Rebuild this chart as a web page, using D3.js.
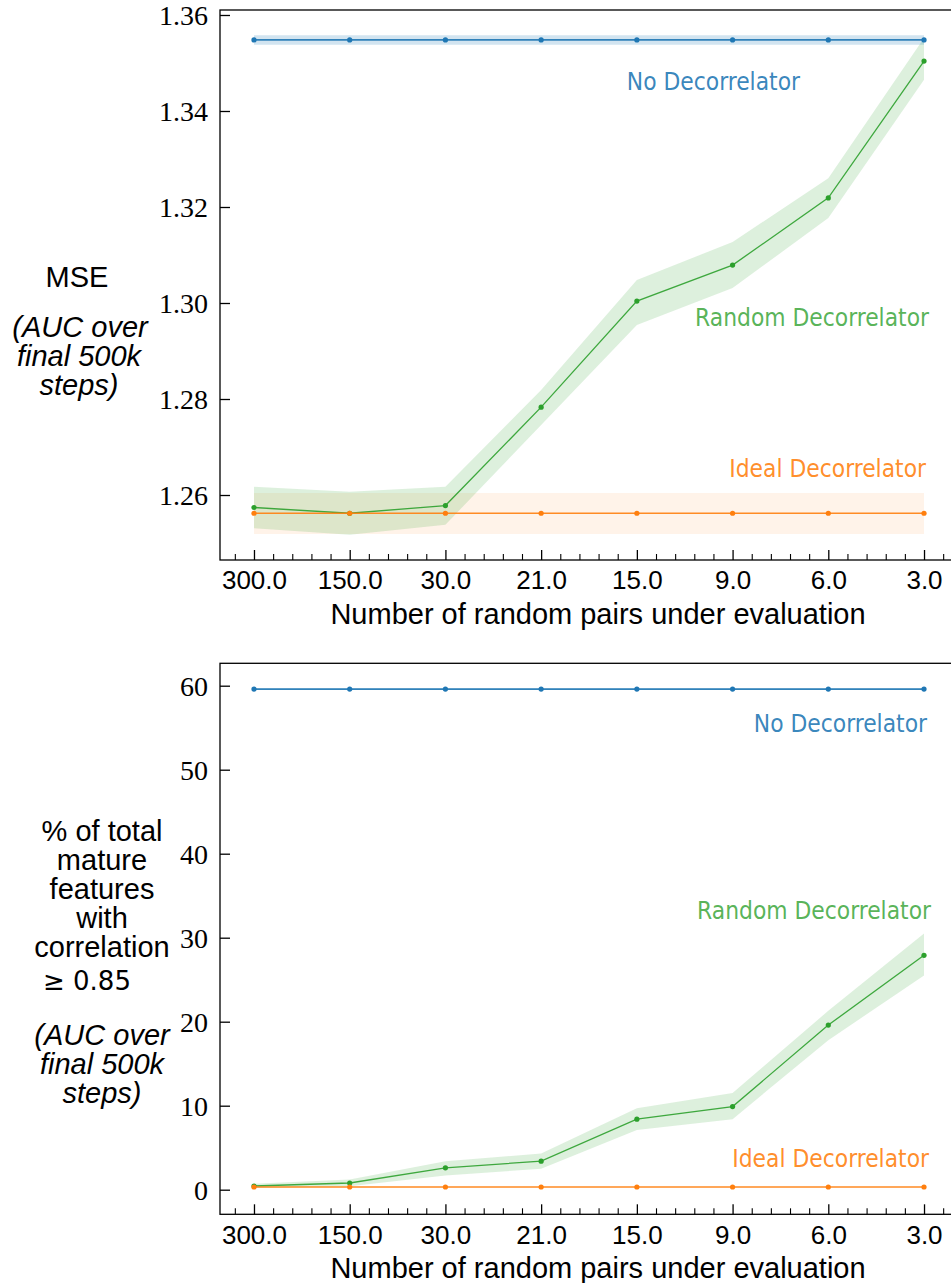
<!DOCTYPE html>
<html>
<head>
<meta charset="utf-8">
<script src="https://cdn.jsdelivr.net/npm/d3@7"></script>
<style>
  html, body { margin: 0; padding: 0; background: #fff; }
  svg { display: block; }
  .ytick text { font-family: "Liberation Serif", "DejaVu Serif", serif; font-size: 28px; fill: #000; }
  .xtick text { font-family: "Liberation Sans", Arial, sans-serif; font-size: 26px; fill: #000; }
  .title { font-family: "Liberation Sans", Arial, sans-serif; font-size: 29px; fill: #000; }
  .series-label { font-family: "DejaVu Sans Condensed", "DejaVu Sans", sans-serif; font-stretch: condensed; font-size: 24.3px; }
</style>
</head>
<body>
<svg id="chart" width="951" height="1283"></svg>
<script>
// Evaluation budgets (number of random pairs), shown left to right
const categories = ["300.0", "150.0", "30.0", "21.0", "15.0", "9.0", "6.0", "3.0"];

// Panel 1: MSE (AUC over final 500k steps)
const mseNoMean    = [1.3548, 1.3548, 1.3548, 1.3548, 1.3548, 1.3548, 1.3548, 1.3548];
const mseNoLow     = [1.3538, 1.3538, 1.3538, 1.3538, 1.3538, 1.3538, 1.3538, 1.3538];
const mseNoHigh    = [1.3558, 1.3558, 1.3558, 1.3558, 1.3558, 1.3558, 1.3558, 1.3558];
const mseRandMean  = [1.2574, 1.2562, 1.2578, 1.2783, 1.3004, 1.3079, 1.3219, 1.3504];
const mseRandLow   = [1.2531, 1.2517, 1.2538, 1.2746, 1.2954, 1.3031, 1.3177, 1.3465];
const mseRandHigh  = [1.2617, 1.2607, 1.2617, 1.2819, 1.3048, 1.3127, 1.3260, 1.3552];
const mseIdealMean = [1.2562, 1.2562, 1.2562, 1.2562, 1.2562, 1.2562, 1.2562, 1.2562];
const mseIdealLow  = [1.2519, 1.2519, 1.2519, 1.2519, 1.2519, 1.2519, 1.2519, 1.2519];
const mseIdealHigh = [1.2604, 1.2604, 1.2604, 1.2604, 1.2604, 1.2604, 1.2604, 1.2604];
const mseTicks = [1.26, 1.28, 1.30, 1.32, 1.34, 1.36];

// Panel 2: % of mature features with correlation >= 0.85
const corNoMean    = [59.6, 59.6, 59.6, 59.6, 59.6, 59.6, 59.6, 59.6];
const corNoLow     = [59.5, 59.5, 59.5, 59.5, 59.5, 59.5, 59.5, 59.5];
const corNoHigh    = [59.7, 59.7, 59.7, 59.7, 59.7, 59.7, 59.7, 59.7];
const corRandMean  = [0.44, 0.8, 2.6, 3.4, 8.4, 9.9, 19.6, 27.9];
const corRandLow   = [0.2, 0.4, 1.7, 2.5, 7.1, 8.4, 17.8, 25.5];
const corRandHigh  = [0.7, 1.2, 3.4, 4.3, 9.7, 11.5, 21.3, 30.5];
const corIdealMean = [0.32, 0.32, 0.32, 0.32, 0.32, 0.32, 0.32, 0.32];
const corIdealLow  = [0.27, 0.27, 0.27, 0.27, 0.27, 0.27, 0.27, 0.27];
const corIdealHigh = [0.37, 0.37, 0.37, 0.37, 0.37, 0.37, 0.37, 0.37];
const corTicks = [0, 10, 20, 30, 40, 50, 60];

const seriesNames = ["No Decorrelator", "Random Decorrelator", "Ideal Decorrelator"];
const colors = { no: "#1f77b4", rand: "#2ca02c", ideal: "#ff7f0e" };

const svg = d3.select("#chart");

function drawPanel(cfg) {
  const g = svg.append("g");
  const idx = d3.range(categories.length);
  const x = d3.scaleLinear().domain([-0.355, categories.length - 1 + 0.355]).range([cfg.left, cfg.right]);
  const y = d3.scaleLinear().domain(cfg.yDomain).range([cfg.bottom, cfg.top]);

  const series = [
    { key: "no", mean: cfg.no[0], low: cfg.no[1], high: cfg.no[2], bandAlpha: 0.2, lw: 1.7 },
    { key: "rand", mean: cfg.rand[0], low: cfg.rand[1], high: cfg.rand[2], bandAlpha: 0.16, lw: 1.3 },
    { key: "ideal", mean: cfg.ideal[0], low: cfg.ideal[1], high: cfg.ideal[2], bandAlpha: 0.09, lw: 1.6 }
  ];

  const area = d3.area().x(i => x(i));
  const line = d3.line().x(i => x(i));

  // confidence bands
  ["ideal", "rand", "no"].forEach(k => {
    const s = series.find(d => d.key === k);
    g.append("path")
      .datum(idx)
      .attr("d", area.y0(i => y(s.low[i])).y1(i => y(s.high[i])))
      .attr("fill", colors[k])
      .attr("fill-opacity", s.bandAlpha);
  });

  // mean lines with point markers
  ["no", "rand", "ideal"].forEach(k => {
    const s = series.find(d => d.key === k);
    g.append("path")
      .datum(idx)
      .attr("d", line.y(i => y(s.mean[i])))
      .attr("fill", "none")
      .attr("stroke", colors[k])
      .attr("stroke-opacity", 0.9)
      .attr("stroke-width", s.lw);
    g.selectAll(null)
      .data(idx)
      .enter().append("circle")
      .attr("cx", i => x(i))
      .attr("cy", i => y(s.mean[i]))
      .attr("r", 2.6)
      .attr("fill", colors[k]);
  });

  // series labels
  cfg.labels.forEach(l => {
    g.append("text")
      .attr("class", "series-label")
      .attr("x", l.x)
      .attr("y", l.y)
      .attr("text-anchor", "end")
      .attr("fill", colors[l.key])
      .attr("fill-opacity", l.alpha)
      .text(l.text);
  });

  // frame
  g.append("rect")
    .attr("x", cfg.left).attr("y", cfg.top)
    .attr("width", cfg.right - cfg.left).attr("height", cfg.bottom - cfg.top)
    .attr("fill", "none").attr("stroke", "#000").attr("stroke-width", 1.3);

  // y axis: inward ticks, serif labels
  const yAxis = d3.axisLeft(y).tickValues(cfg.yTicks).tickFormat(cfg.yFormat)
    .tickSizeInner(-10).tickSizeOuter(0).tickPadding(12);
  const ya = g.append("g").attr("class", "ytick").attr("transform", `translate(${cfg.left},0)`).call(yAxis);
  ya.select(".domain").remove();
  ya.selectAll("line").attr("stroke", "#000").attr("stroke-width", 1.3);
  ya.selectAll("text").attr("dy", "0.35em");

  // x axis: major ticks at each budget
  const xAxis = d3.axisBottom(x).tickValues(idx).tickFormat(i => categories[i])
    .tickSizeInner(-10).tickSizeOuter(0).tickPadding(11);
  const xa = g.append("g").attr("class", "xtick").attr("transform", `translate(0,${cfg.bottom})`).call(xAxis);
  xa.select(".domain").remove();
  xa.selectAll("line").attr("stroke", "#000").attr("stroke-width", 1.3);
  xa.selectAll("text").attr("dy", "0.71em");

  // x axis: minor ticks
  const minor = d3.range(-0.2, categories.length - 1 + 0.45, 0.2)
    .map(v => Math.round(v * 10) / 10)
    .filter(v => Math.abs(v - Math.round(v)) > 1e-6);
  const xm = g.append("g").attr("transform", `translate(0,${cfg.bottom})`)
    .call(d3.axisBottom(x).tickValues(minor).tickFormat("").tickSizeInner(-6).tickSizeOuter(0));
  xm.select(".domain").remove();
  xm.selectAll("line").attr("stroke", "#000").attr("stroke-width", 1.1);

  // x title
  g.append("text").attr("class", "title")
    .attr("x", cfg.xTitleX).attr("y", cfg.xTitleY)
    .attr("text-anchor", "middle")
    .text("Number of random pairs under evaluation");

  // y title: one text block, one tspan per line
  const yt = g.append("text").attr("class", "title").attr("text-anchor", "middle");
  cfg.yTitle.forEach(t => {
    yt.append("tspan")
      .attr("x", t.x).attr("y", t.y)
      .style("font-style", t.italic ? "italic" : "normal")
      .style("font-family", t.font || null)
      .style("font-size", t.size || null)
      .text(t.text);
  });
}

drawPanel({
  left: 220, right: 958, top: 10, bottom: 560,
  yDomain: [1.24646, 1.36104],
  yTicks: mseTicks, yFormat: d3.format(".2f"),
  no: [mseNoMean, mseNoLow, mseNoHigh],
  rand: [mseRandMean, mseRandLow, mseRandHigh],
  ideal: [mseIdealMean, mseIdealLow, mseIdealHigh],
  labels: [
    { key: "no", text: seriesNames[0], x: 800, y: 90, alpha: 0.9 },
    { key: "rand", text: seriesNames[1], x: 929, y: 326, alpha: 0.8 },
    { key: "ideal", text: seriesNames[2], x: 926, y: 477, alpha: 0.9 }
  ],
  xTitleX: 598, xTitleY: 624,
  yTitle: [
    { text: "MSE", x: 77, y: 287 },
    { text: "(AUC over", x: 80, y: 337, italic: true },
    { text: "final 500k", x: 79, y: 366, italic: true },
    { text: "steps)", x: 79, y: 395, italic: true }
  ]
});

drawPanel({
  left: 220, right: 958, top: 663.3, bottom: 1214.3,
  yDomain: [-2.929, 62.667],
  yTicks: corTicks, yFormat: d3.format("d"),
  no: [corNoMean, corNoLow, corNoHigh],
  rand: [corRandMean, corRandLow, corRandHigh],
  ideal: [corIdealMean, corIdealLow, corIdealHigh],
  labels: [
    { key: "no", text: seriesNames[0], x: 927, y: 732, alpha: 0.9 },
    { key: "rand", text: seriesNames[1], x: 931, y: 919, alpha: 0.8 },
    { key: "ideal", text: seriesNames[2], x: 929, y: 1167, alpha: 0.9 }
  ],
  xTitleX: 598, xTitleY: 1278,
  yTitle: [
    { text: "% of total", x: 102, y: 841 },
    { text: "mature", x: 102, y: 870 },
    { text: "features", x: 102, y: 899 },
    { text: "with", x: 102, y: 928 },
    { text: "correlation", x: 102, y: 957 },
    { text: "\u2265 0.85", x: 87, y: 990, font: "'DejaVu Sans', sans-serif", size: "26px" },
    { text: "(AUC over", x: 102, y: 1045, italic: true },
    { text: "final 500k", x: 102, y: 1074, italic: true },
    { text: "steps)", x: 102, y: 1103, italic: true }
  ]
});
</script>
</body>
</html>
